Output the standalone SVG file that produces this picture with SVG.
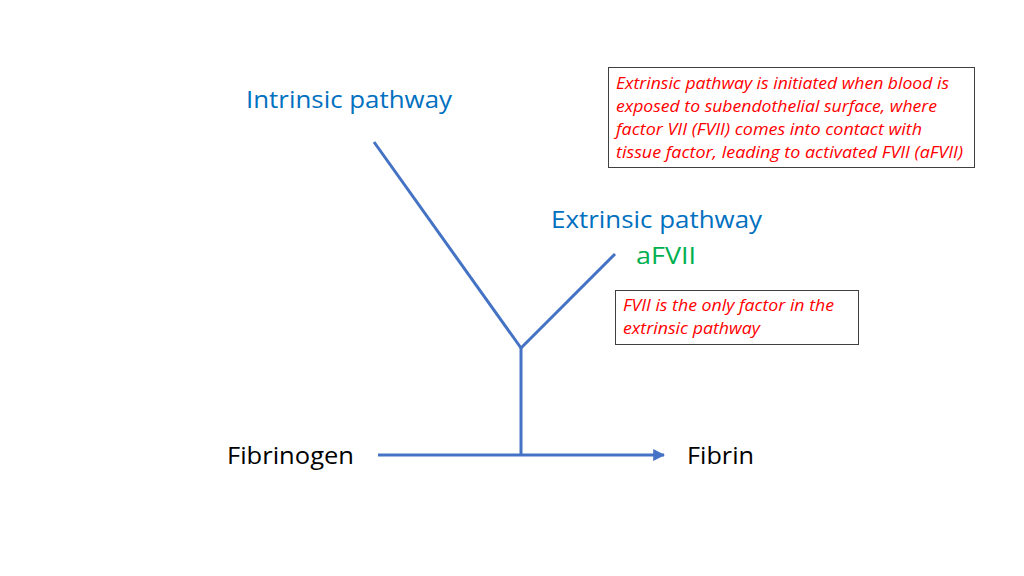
<svg xmlns="http://www.w3.org/2000/svg" width="1024" height="576" viewBox="0 0 1024 576">
<style>
.lbl{font-family:"Open Sans","Liberation Sans",sans-serif;font-size:24px}
.blue{fill:#0070C0}
.green{fill:#00B050}
.black{fill:#000}
.note{font-family:"Open Sans","Liberation Sans",sans-serif;font-size:16.5px;font-style:italic;fill:#FF0000}
.box{fill:#fff;stroke:#404040;stroke-width:1}
.conn{stroke:#4472C4;stroke-width:3;fill:none}
</style>
<defs>
<marker id="arr" viewBox="0 0 10 10" refX="9" refY="5" markerWidth="4" markerHeight="4" orient="auto" markerUnits="strokeWidth">
<path d="M0,0 L10,5 L0,10 z" fill="#4472C4"/>
</marker>
</defs>
<rect width="1024" height="576" fill="#fff"/>
<g id="connectors">
<line class="conn" x1="374" y1="142" x2="521" y2="348"/>
<line class="conn" x1="615" y1="254" x2="521" y2="348"/>
<line class="conn" x1="521" y1="348" x2="521" y2="455"/>
<line class="conn" x1="378" y1="455" x2="664" y2="455" marker-end="url(#arr)"/>
</g>
<g id="intrinsic"><text class="lbl blue" x="246" y="108" textLength="206" lengthAdjust="spacingAndGlyphs">Intrinsic pathway</text></g>
<g id="extrinsic"><text class="lbl blue" x="551" y="228" textLength="211" lengthAdjust="spacingAndGlyphs">Extrinsic pathway</text></g>
<g id="afvii"><text class="lbl green" x="636" y="264" textLength="60" lengthAdjust="spacingAndGlyphs">aFVII</text></g>
<g id="fibrinogen"><text class="lbl black" x="227" y="464" textLength="127" lengthAdjust="spacingAndGlyphs">Fibrinogen</text></g>
<g id="fibrin"><text class="lbl black" x="687" y="464" textLength="67" lengthAdjust="spacingAndGlyphs">Fibrin</text></g>
<g id="note1">
<rect class="box" x="608.5" y="67.5" width="366" height="100"/>
<text class="note" x="616" y="89" textLength="333" lengthAdjust="spacingAndGlyphs">Extrinsic pathway is initiated when blood is</text>
<text class="note" x="616" y="112" textLength="321" lengthAdjust="spacingAndGlyphs">exposed to subendothelial surface, where</text>
<text class="note" x="616" y="135" textLength="306" lengthAdjust="spacingAndGlyphs">factor VII (FVII) comes into contact with</text>
<text class="note" x="616" y="158" textLength="347" lengthAdjust="spacingAndGlyphs">tissue factor, leading to activated FVII (aFVII)</text>
</g>
<g id="note2">
<rect class="box" x="615.5" y="290.5" width="243" height="54"/>
<text class="note" x="623" y="311" textLength="211" lengthAdjust="spacingAndGlyphs">FVII is the only factor in the</text>
<text class="note" x="623" y="334" textLength="137" lengthAdjust="spacingAndGlyphs">extrinsic pathway</text>
</g>
</svg>
